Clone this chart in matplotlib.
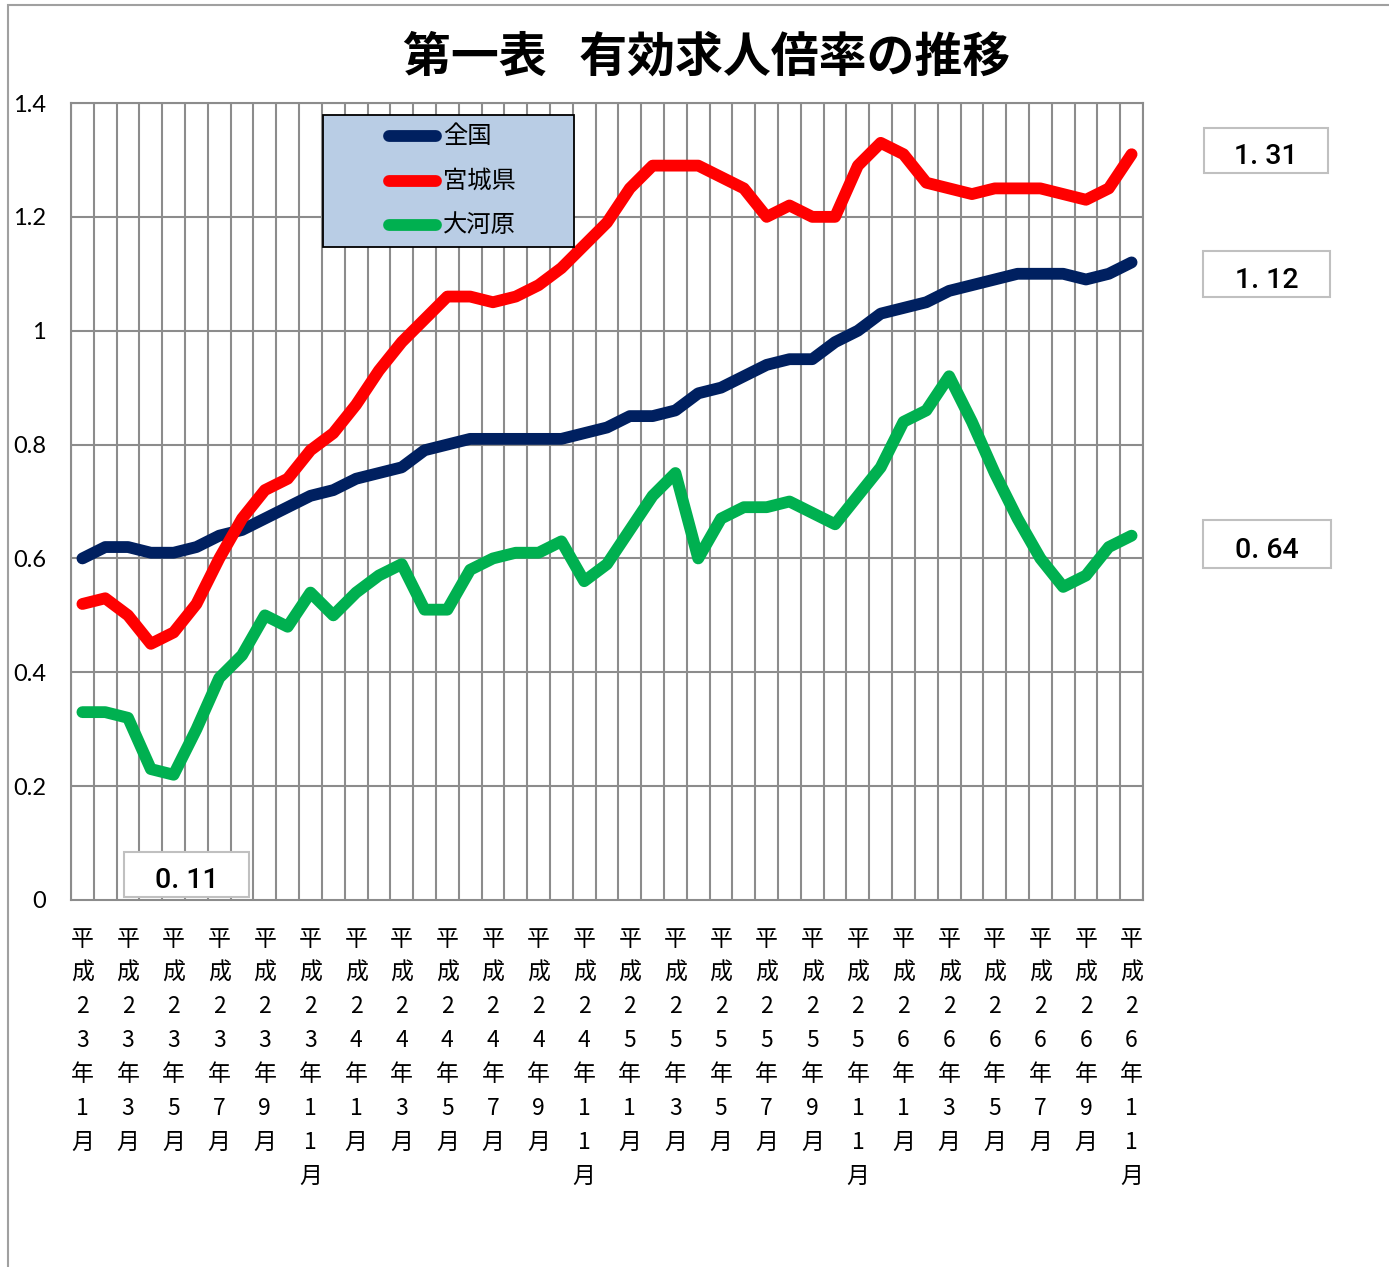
import numpy as np
import matplotlib
matplotlib.use('Agg')
import matplotlib.pyplot as plt
from matplotlib.patches import Rectangle
from matplotlib.lines import Line2D

plt.rcParams['font.family'] = ['Noto Sans CJK JP', 'DejaVu Sans']

# monthly data, H23.1 - H26.11
zenkoku = [0.60, 0.62, 0.62, 0.61, 0.61, 0.62, 0.64, 0.65, 0.67, 0.69,
           0.71, 0.72, 0.74, 0.75, 0.76, 0.79, 0.80, 0.81, 0.81, 0.81,
           0.81, 0.81, 0.82, 0.83, 0.85, 0.85, 0.86, 0.89, 0.90, 0.92,
           0.94, 0.95, 0.95, 0.98, 1.00, 1.03, 1.04, 1.05, 1.07, 1.08,
           1.09, 1.10, 1.10, 1.10, 1.09, 1.10, 1.12]
miyagi = [0.52, 0.53, 0.50, 0.45, 0.47, 0.52, 0.60, 0.67, 0.72, 0.74,
          0.79, 0.82, 0.87, 0.93, 0.98, 1.02, 1.06, 1.06, 1.05, 1.06,
          1.08, 1.11, 1.15, 1.19, 1.25, 1.29, 1.29, 1.29, 1.27, 1.25,
          1.20, 1.22, 1.20, 1.20, 1.29, 1.33, 1.31, 1.26, 1.25, 1.24,
          1.25, 1.25, 1.25, 1.24, 1.23, 1.25, 1.31]
ogawara = [0.33, 0.33, 0.32, 0.23, 0.22, 0.30, 0.39, 0.43, 0.50, 0.48,
           0.54, 0.50, 0.54, 0.57, 0.59, 0.51, 0.51, 0.58, 0.60, 0.61,
           0.61, 0.63, 0.56, 0.59, 0.65, 0.71, 0.75, 0.60, 0.67, 0.69,
           0.69, 0.70, 0.68, 0.66, 0.71, 0.76, 0.84, 0.86, 0.92, 0.84,
           0.75, 0.67, 0.60, 0.55, 0.57, 0.62, 0.64]
series_names = ['全国', '宮城県', '大河原']
tick_labels = ['平成23年1月', '平成23年3月', '平成23年5月', '平成23年7月',
               '平成23年9月', '平成23年11月', '平成24年1月', '平成24年3月',
               '平成24年5月', '平成24年7月', '平成24年9月', '平成24年11月',
               '平成25年1月', '平成25年3月', '平成25年5月', '平成25年7月',
               '平成25年9月', '平成25年11月', '平成26年1月', '平成26年3月',
               '平成26年5月', '平成26年7月', '平成26年9月', '平成26年11月']
value_labels = ['1. 31', '1. 12', '0. 64', '0. 11']

colors = ['#002060', '#FF0000', '#00B050']
grid_c = '#8C8C8C'
LW = 8.5

W, H = 1389, 1267
fig = plt.figure(figsize=(W/100, H/100), dpi=100)
ax = fig.add_axes([71/W, 1-900/H, 1072/W, 797/H])

n = len(zenkoku)
x = np.arange(n)
for vals, c in zip([zenkoku, miyagi, ogawara], colors):
    ax.plot(x, vals, color=c, lw=LW, solid_capstyle='round',
            solid_joinstyle='round', zorder=3)

ax.set_xlim(-0.5, n-0.5)
ax.set_ylim(0, 1.4)
ax.set_yticks(np.arange(0, 1.41, 0.2))
ax.set_yticklabels(['0', '0.2', '0.4', '0.6', '0.8', '1', '1.2', '1.4'],
                   fontsize=17, family=['Lato', 'DejaVu Sans'])
for yy in np.arange(0.2, 1.41, 0.2):
    ax.axhline(yy, color=grid_c, lw=1.5, zorder=1)
for xx in np.arange(-0.5, n, 1):
    ax.axvline(xx, color=grid_c, lw=1.5, zorder=1)
for s in ax.spines.values():
    s.set_color(grid_c)
    s.set_linewidth(1.5)

ax.set_xticks(x[::2])
ax.set_xticklabels(['\n'.join(list(t)) for t in tick_labels], fontsize=16.5,
                   linespacing=1.6, va='top')
ax.tick_params(axis='x', length=0, pad=20)
ax.tick_params(axis='y', length=0, pad=18)

fig.text(707/W, 1-57/H, '第一表   有効求人倍率の推移', fontsize=34.5,
         fontweight='bold', ha='center', va='center')

# legend, drawn by hand in pixel coordinates
def px(xp, yp):
    return xp/W, 1-yp/H

fig.patches.append(Rectangle(px(323, 247), 251/W, 132/H, transform=fig.transFigure,
                             facecolor='#B9CDE5', edgecolor='black', lw=1.3, zorder=8))
for k, (name, c) in enumerate(zip(series_names, colors)):
    yp = 136 + 44.5*k
    fig.lines.append(Line2D([px(389, yp)[0], px(436, yp)[0]], [px(0, yp)[1]]*2,
                            transform=fig.transFigure, color=c, lw=LW,
                            solid_capstyle='round', zorder=9))
    fig.text(443/W, 1-yp/H, name, fontsize=17.5, va='center', ha='left', zorder=10)

# value boxes
boxes = [(1204, 128, 1328, 173), (1203, 251, 1330, 297),
         (1203, 520, 1331, 568), (124, 852, 249, 897)]
for (x0, y0, x1, y1), txt in zip(boxes, value_labels):
    fig.patches.append(Rectangle(px(x0, y1), (x1-x0)/W, (y1-y0)/H,
                                 transform=fig.transFigure, facecolor='white',
                                 edgecolor='#C0C0C0', lw=1.5, zorder=6))
    fig.text((x0+x1)/2/W, 1-((y0+y1)/2+6)/H, txt, ha='center', va='center',
             fontsize=20.5, fontweight=500,
             family=['Roboto', 'DejaVu Sans'], zorder=7)

# outer frame
fig.patches.append(Rectangle((8/W, -0.01), 1.02, 1-5/H+0.01, transform=fig.transFigure,
                             facecolor='none', edgecolor='#A0A0A0', lw=1.5))

fig.savefig('out.png', dpi=100)
